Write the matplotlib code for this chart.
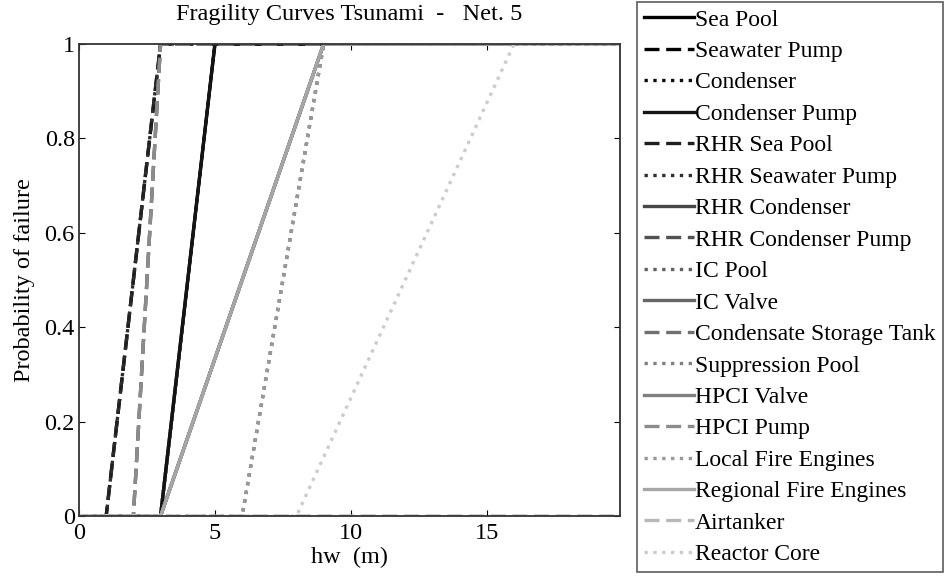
import numpy as np
import matplotlib.pyplot as plt

# === Fragility data: hw where failure probability starts rising / reaches 1 ===
components = [
    "Sea Pool", "Seawater Pump", "Condenser", "Condenser Pump",
    "RHR Sea Pool", "RHR Seawater Pump", "RHR Condenser", "RHR Condenser Pump",
    "IC Pool", "IC Valve", "Condensate Storage Tank", "Suppression Pool",
    "HPCI Valve", "HPCI Pump", "Local Fire Engines", "Regional Fire Engines",
    "Airtanker", "Reactor Core",
]
hw_start = [3, 1, 3, 3, 1, 1, 3, 2, 6, 3, 2, 6, 3, 2, 6, 3, 20, 8]
hw_end = [5, 3, 5, 5, 3, 3, 9, 3, 9, 9, 3, 9, 9, 3, 9, 9, 30, 16]

# === Styles ===
styles = ["-", "--", ":"] * 6
greys = [0.0, 0.0, 0.05, 0.08, 0.12, 0.18, 0.28, 0.32, 0.38,
         0.40, 0.44, 0.50, 0.50, 0.55, 0.60, 0.65, 0.72, 0.80]

plt.rcParams["font.family"] = ["Liberation Serif", "DejaVu Serif"]
plt.rcParams["font.size"] = 17.5

fig = plt.figure(figsize=(9.49, 5.77), dpi=100)
ax = fig.add_axes([79 / 949, 1 - 516 / 577, (620 - 79) / 949, (516 - 44) / 577])

hw = np.linspace(0, 20, 4001)
for name, a, b, ls, g in zip(components, hw_start, hw_end, styles, greys):
    pf = np.clip((hw - a) / (b - a), 0, 1)
    line, = ax.plot(hw, pf, linestyle=ls, color=str(g), lw=2.4, label=name)
    if ls == "--":
        line.set_dashes((4.5, 2))

ax.set_xlim(0, 19.9)
ax.set_ylim(0, 1)
ax.set_xticks([0, 5, 10, 15])
ax.set_xticklabels(["0", "5", "10", "15"])
ax.set_yticks([0, 0.2, 0.4, 0.6, 0.8, 1])
ax.set_yticklabels(["0", "0.2", "0.4", "0.6", "0.8", "1"])
ax.tick_params(direction="in", length=4, top=True, right=True, labelsize=17.5)
ax.tick_params(axis="x", pad=5)
ax.tick_params(axis="y", pad=3)
for s in ax.spines.values():
    s.set_color("0.2")
    s.set_linewidth(1.3)

ax.set_title("Fragility Curves Tsunami  -   Net. 5", fontsize=17.5, pad=17)
ax.set_xlabel("hw  (m)", fontsize=17.5, labelpad=2)
ax.set_ylabel("Probability of failure", fontsize=17.5, labelpad=7)

leg = fig.legend(loc="upper left", bbox_to_anchor=(637 / 949, 1 - 2 / 577),
                 borderaxespad=0, fancybox=False, edgecolor="0.2",
                 handlelength=2.1, handletextpad=0.05, labelspacing=0.42,
                 borderpad=0.3, fontsize=17)
leg.get_frame().set_linewidth(1.2)

plt.savefig("out.png", dpi=100)
plt.close()
